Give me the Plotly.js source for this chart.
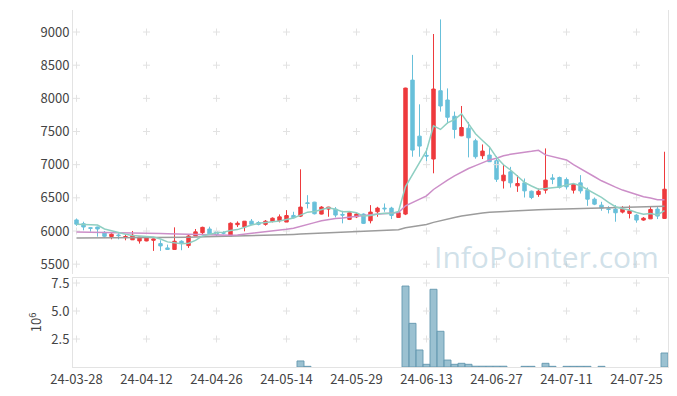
<!DOCTYPE html>
<html><head><meta charset="utf-8">
<script src="https://cdn.plot.ly/plotly-3.0.1.min.js"></script>
<style>html,body{margin:0;padding:0;background:#fff}#chart{width:677px;height:396px}</style>
</head><body><div id="chart"></div>
<script>
const dates = ["24-03-28","24-03-29","24-04-01","24-04-02","24-04-03","24-04-04","24-04-05","24-04-08","24-04-09","24-04-11",
"24-04-12","24-04-15","24-04-16","24-04-17","24-04-18","24-04-19","24-04-22","24-04-23","24-04-24","24-04-25",
"24-04-26","24-04-29","24-04-30","24-05-02","24-05-03","24-05-07","24-05-08","24-05-09","24-05-10","24-05-13",
"24-05-14","24-05-16","24-05-17","24-05-20","24-05-21","24-05-22","24-05-23","24-05-24","24-05-27","24-05-28",
"24-05-29","24-05-30","24-05-31","24-06-03","24-06-04","24-06-05","24-06-07","24-06-10","24-06-11","24-06-12",
"24-06-13","24-06-14","24-06-17","24-06-18","24-06-19","24-06-20","24-06-21","24-06-24","24-06-25","24-06-26",
"24-06-27","24-06-28","24-07-01","24-07-02","24-07-03","24-07-04","24-07-05","24-07-08","24-07-09","24-07-10",
"24-07-11","24-07-12","24-07-15","24-07-16","24-07-17","24-07-18","24-07-19","24-07-22","24-07-23","24-07-24",
"24-07-25","24-07-26","24-07-29","24-07-30","24-07-31"];
const openP = [6167,6110,6050,6060,5980,5917,5940,5900,5867,5850,5850,5860,5810,5745,5722,5846,5780,5926,5975,6030,
5987,5975,5926,6095,6062,6148,6128,6100,6143,6155,6135,6235,6224,6425,6435,6255,6330,6330,6250,6175,
6213,6255,6155,6290,6345,6345,6205,6255,8275,7430,7140,7085,8115,7975,7730,7435,7550,7360,7135,7145,
7060,6757,6892,6681,6726,6600,6550,6616,6800,6807,6777,6616,6726,6616,6480,6390,6335,6330,6285,6265,
6240,6165,6183,6330,6190];
const highP = [6189,6140,6055,6065,6000,5966,5966,5946,6000,5915,5905,5885,5860,5795,6055,5860,5940,6030,6065,6065,
6020,5995,6130,6145,6150,6180,6148,6165,6205,6250,6315,6290,6930,6540,6440,6375,6365,6360,6305,6290,
6275,6265,6390,6365,6415,6365,6285,8160,8655,7910,7245,8970,9190,8150,7800,7885,7645,7390,7305,7270,
7130,7008,6967,6842,6792,6610,6640,7245,6857,6820,6807,6716,6842,6656,6505,6440,6375,6390,6375,6385,
6255,6210,6365,6365,7195];
const lowP = [6077,6010,5990,5915,5895,5875,5875,5860,5865,5810,5845,5700,5700,5720,5720,5710,5745,5925,5955,5940,
5910,5950,5925,6060,5995,6090,6085,6080,6130,6130,6135,6190,6210,6340,6250,6250,6215,6205,6115,6165,
6195,6105,6115,6215,6290,6180,6200,6240,7120,7120,7045,6870,7800,7620,7395,7430,7110,7090,7085,7040,
6740,6640,6655,6590,6505,6480,6515,6565,6706,6640,6626,6565,6565,6380,6390,6305,6265,6140,6265,6190,
6125,6155,6180,6180,6185];
const closeP = [6103,6060,6040,6030,5920,5952,5930,5917,5937,5910,5895,5880,5775,5722,5846,5815,5925,5987,6055,5958,
5945,5968,6117,6117,6148,6100,6100,6148,6193,6213,6233,6200,6360,6415,6260,6360,6360,6240,6240,6275,
6255,6115,6285,6345,6335,6235,6275,8155,7220,7280,7130,8140,7885,7715,7530,7560,7405,7120,7205,7045,
6780,6842,6726,6716,6605,6505,6600,6767,6780,6660,6666,6701,6605,6480,6405,6345,6325,6275,6330,6305,
6165,6193,6325,6225,6630];
const ma5 = [6100,6100,6098,6090,6031,6000,5974,5950,5931,5929,5918,5908,5879,5836,5824,5808,5817,5859,5926,5948,
5974,5983,6009,6021,6059,6090,6116,6123,6138,6151,6177,6197,6240,6284,6294,6319,6351,6327,6292,6295,
6274,6225,6234,6255,6267,6263,6295,6669,6844,7033,7212,7585,7531,7630,7680,7766,7619,7466,7364,7267,
7111,6998,6920,6822,6734,6679,6630,6639,6651,6662,6695,6715,6682,6622,6571,6507,6432,6366,6336,6316,
6280,6254,6264,6243,6308];
const ma20 = [5985,5984,5983,5982,5980,5978,5976,5974,5972,5970,5968,5966,5963,5960,5958,5955,5952,5950,5948,5946,
5938,5933,5937,5941,5953,5960,5969,5980,5993,6008,6025,6041,6071,6105,6126,6153,6174,6187,6196,6212,
6228,6235,6244,6255,6264,6271,6280,6380,6431,6484,6529,6626,6702,6767,6830,6890,6942,6986,7034,7072,
7098,7134,7156,7175,7188,7201,7217,7148,7126,7095,7072,7000,6936,6874,6818,6757,6703,6661,6617,6580,
6549,6517,6497,6472,6473];
const ma60 = [5896,5896,5897,5897,5897,5898,5898,5899,5899,5900,5900,5901,5902,5903,5904,5905,5907,5909,5911,5913,
5915,5917,5920,5922,5925,5928,5931,5934,5937,5941,5945,5949,5953,5957,5961,5965,5970,5975,5980,5985,
5990,5995,6000,6005,6010,6015,6020,6050,6068,6085,6098,6130,6158,6183,6205,6225,6243,6258,6272,6283,
6290,6298,6305,6310,6314,6318,6322,6325,6328,6331,6334,6337,6340,6343,6346,6349,6352,6355,6358,6361,
6364,6367,6370,6372,6375];
const volume = [0.01,0.01,0.01,0.01,0.01,0.01,0.01,0.01,0.01,0.01,0.01,0.01,0.01,0.01,0.01,0.01,0.01,0.01,0.01,0.01,
0.01,0.01,0.01,0.01,0.01,0.01,0.01,0.01,0.01,0.01,0.01,0.01,0.54,0.06,0.01,0.01,0.01,0.01,0.01,0.01,
0.01,0.01,0.01,0.01,0.01,0.01,0.01,7.23,3.90,1.52,0.24,6.94,3.19,0.62,0.24,0.33,0.24,0.07,0.07,0.07,
0.07,0.07,0.01,0.01,0.06,0.06,0.01,0.33,0.06,0.01,0.06,0.06,0.06,0.06,0.01,0.06,0.01,0.01,0.01,0.01,
0.01,0.01,0.01,0.01,1.25];
const xTickIdx = [0,10,20,30,40,50,60,70,80];
const priceTicks = [5500,6000,6500,7000,7500,8000,8500,9000];
const volTicks = [2.5,5.0,7.5];
const volTickText = ["2.5","5.0","7.5"];

const xTicks = xTickIdx.map(i => dates[i]);
const font = "Noto Sans CJK KR, Noto Sans, sans-serif";

// grid crosses at tick intersections
const cx1=[], cy1=[], cx2=[], cy2=[];
xTicks.forEach(d => { priceTicks.forEach(v => {cx1.push(d); cy1.push(v);}); volTicks.forEach(v => {cx2.push(d); cy2.push(v);}); });
const barLineW = volume.map(v => v >= 0.05 ? 1 : 0);

const traces = [
  {type:'scatter', mode:'markers', x:cx1, y:cy1, xaxis:'x', yaxis:'y', hoverinfo:'skip', showlegend:false,
   marker:{symbol:'cross-thin', size:5, line:{color:'#e2e2e2', width:1}}},
  {type:'scatter', mode:'markers', x:cx2, y:cy2, xaxis:'x', yaxis:'y2', hoverinfo:'skip', showlegend:false,
   marker:{symbol:'cross-thin', size:5, line:{color:'#e2e2e2', width:1}}},
  {type:'candlestick', x:dates, open:openP, high:highP, low:lowP, close:closeP, xaxis:'x', yaxis:'y', showlegend:false,
   increasing:{line:{color:'#ee3a3d', width:1}, fillcolor:'#ee3a3d'},
   decreasing:{line:{color:'#68c0da', width:1}, fillcolor:'#68c0da'}},
  {type:'bar', x:dates, y:volume, xaxis:'x', yaxis:'y2', showlegend:false,
   marker:{color:'rgba(130,178,198,0.8)', line:{color:'rgba(100,152,175,0.9)', width:barLineW}}},
  {type:'scatter', mode:'lines', x:dates, y:ma60, xaxis:'x', yaxis:'y', line:{color:'#9c9c9c', width:1.5}, showlegend:false, hoverinfo:'skip'},
  {type:'scatter', mode:'lines', x:dates, y:ma20, xaxis:'x', yaxis:'y', line:{color:'#cc8ec8', width:1.5}, showlegend:false, hoverinfo:'skip'},
  {type:'scatter', mode:'lines', x:dates, y:ma5, xaxis:'x', yaxis:'y', line:{color:'#8fcfc2', width:1.5}, showlegend:false, hoverinfo:'skip'}
];

const layout = {
  width:677, height:396,
  margin:{l:73, r:9, t:10, b:29},
  paper_bgcolor:'#fff', plot_bgcolor:'#fff',
  font:{family:font, size:13, color:'#444'},
  showlegend:false,
  bargap:0,
  xaxis:{type:'category', categoryorder:'array', categoryarray:dates, anchor:'y2', range:[-0.5, dates.length-0.5],
    tickvals:xTicks, ticktext:xTicks,
    showgrid:false, zeroline:false, showline:true, linecolor:'#e3e3e3', mirror:true, ticks:'', rangeslider:{visible:false},
    tickfont:{family:font, size:13, color:'#444'}},
  yaxis:{domain:[0.26,1], anchor:'x', range:[5349,9332], tickvals:priceTicks, ticktext:priceTicks.map(String),
    showgrid:false, zeroline:false, showline:true, linecolor:'#e3e3e3', mirror:true, ticks:'',
    tickfont:{family:font, size:13, color:'#444'}},
  yaxis2:{domain:[0,0.25], anchor:'x', range:[0,7.97], tickvals:volTicks, ticktext:volTickText,
    showgrid:false, zeroline:false, showline:true, linecolor:'#e3e3e3', mirror:true, ticks:'',
    title:{text:'10<sup>6</sup>', font:{family:font, size:13, color:'#444'}, standoff:6},
    tickfont:{family:font, size:13, color:'#444'}},
  annotations:[{text:'InfoPointer.com', xref:'paper', yref:'paper', x:0.795, y:0.31, showarrow:false,
    xanchor:'center', yanchor:'middle', font:{family:'Open Sans, Noto Sans, sans-serif', size:30, color:'rgba(170,200,215,0.55)'}}]
};

Plotly.newPlot('chart', traces, layout, {displayModeBar:false, staticPlot:true});
</script></body></html>
